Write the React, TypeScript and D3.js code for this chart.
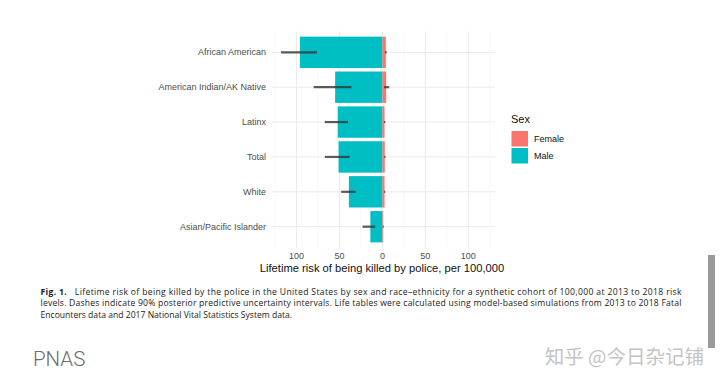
import * as d3 from 'd3';
import React from 'react';

// Race-ethnicity groups, top to bottom
const groups = [
    'African American',
    'American Indian/AK Native',
    'Latinx',
    'Total',
    'White',
    'Asian/Pacific Islander',
];

// Lifetime risk per 100,000 (median) and 90% intervals
const maleRisk = [96, 55, 52, 51, 39, 14];
const maleLow = [76, 36, 40, 38, 31, 8.5];
const maleHigh = [118, 80, 67, 67, 48, 23];

const femaleRisk = [4, 4.4, 2.5, 2.8, 2.5, 1];
const femaleLow = [3, 2, 1.8, 2.2, 1.8, 0.4];
const femaleHigh = [5, 8, 3.4, 3.6, 3.2, 1.6];

const majorTicks = [-100, -50, 0, 50, 100];
const minorTicks = [-125, -75, -25, 25, 75, 125];

const sexes = ['Female', 'Male'];
const sexColors = ['#F8766D', '#00BFC4'];

const captionLines = [
    'Lifetime risk of being killed by the police in the United States by sex and race\u2013ethnicity for a synthetic cohort of 100,000 at 2013 to 2018 risk',
    'levels. Dashes indicate 90% posterior predictive uncertainty intervals. Life tables were calculated using model-based simulations from 2013 to 2018 Fatal',
    'Encounters data and 2017 National Vital Statistics System data.',
];

function App() {
    const width = 720;
    const height = 384;

    // Panel extents
    const x = d3.scaleLinear().domain([-129, 131]).range([271.5, 495]);
    const y = d3.scaleBand().domain(groups).range([31.4, 247.6]).paddingInner(0).paddingOuter(0.1);
    const step = y.step();
    const mid = (g) => y(g) + step / 2;
    const barH = step * 0.9;

    const grid = '#ebebeb';
    const txt = '#4d4d4d';
    const font = '"Liberation Sans", Arial, sans-serif';

    return (
        <svg width={width} height={height} style={{ position: 'absolute', left: 0, top: 0, background: 'white' }}>
            <rect width={width} height={height} fill="white" />

            {/* grid */}
            {minorTicks.map((t) => (
                <line key={'mi' + t} x1={x(t)} x2={x(t)} y1={31.4} y2={247.6} stroke="#f3f3f3" strokeWidth={0.6} />
            ))}
            {majorTicks.map((t) => (
                <line key={'ma' + t} x1={x(t)} x2={x(t)} y1={31.4} y2={247.6} stroke={grid} strokeWidth={1} />
            ))}
            {groups.map((g) => (
                <line key={'h' + g} x1={271.5} x2={495} y1={mid(g)} y2={mid(g)} stroke={grid} strokeWidth={1} />
            ))}

            {/* bars */}
            {groups.map((g, i) => (
                <g key={'b' + g}>
                    <rect x={x(-maleRisk[i])} y={mid(g) - barH / 2} width={x(0) - x(-maleRisk[i])} height={barH} fill={sexColors[1]} />
                    <rect x={x(0)} y={mid(g) - barH / 2} width={x(femaleRisk[i]) - x(0)} height={barH} fill={sexColors[0]} />
                </g>
            ))}

            {/* uncertainty intervals */}
            {groups.map((g, i) => (
                <g key={'e' + g} stroke="#333" strokeOpacity={0.8} strokeWidth={2.2}>
                    <line x1={x(-maleHigh[i])} x2={x(-maleLow[i])} y1={mid(g)} y2={mid(g)} />
                    <line x1={x(femaleLow[i])} x2={x(femaleHigh[i])} y1={mid(g)} y2={mid(g)} />
                </g>
            ))}

            {/* y labels */}
            {groups.map((g) => (
                <text key={'l' + g} x={266} y={mid(g)} dy="0.35em" textAnchor="end" fontSize={9} fill={txt} fontFamily={font}>
                    {g}
                </text>
            ))}

            {/* x tick labels */}
            {majorTicks.map((t) => (
                <text key={'t' + t} x={x(t)} y={256} dy="0.35em" textAnchor="middle" fontSize={9} fill={txt} fontFamily={font}>
                    {Math.abs(t)}
                </text>
            ))}

            <text x={382} y={268.5} dy="0.35em" textAnchor="middle" fontSize={11.2} fill="#111" fontFamily={font}>
                Lifetime risk of being killed by police, per 100,000
            </text>

            {/* legend */}
            <text x={511} y={119} dy="0.35em" fontSize={11} fill="#111" fontFamily={font}>Sex</text>
            {sexes.map((s, i) => (
                <g key={'k' + s}>
                    <rect x={511.5} y={131 + i * 17} width={16.5} height={15.5} fill={sexColors[i]} />
                    <text x={534} y={139 + i * 17} dy="0.35em" fontSize={9} fill="#111" fontFamily={font}>{s}</text>
                </g>
            ))}

            {/* caption */}
            {captionLines.map((line, i) => (
                <text
                    key={'c' + i}
                    x={40.5}
                    y={294.5 + i * 11.5}
                    fontSize={8.6}
                    fill="#1a1a1a"
                    fontFamily='"Open Sans", "Noto Sans", sans-serif'
                    textLength={i < 2 ? 641 : undefined}
                    lengthAdjust="spacing"
                >
                    {i === 0 && <tspan fontWeight="bold">Fig. 1.</tspan>}
                    {i === 0 ? '\u00a0\u00a0 ' + line : line}
                </text>
            ))}

            <text x={33} y={365.5} fontSize={20.5} fontWeight={300} fill="#6b6b6b" fontFamily='Roboto, "Liberation Sans", sans-serif'>
                PNAS
            </text>
            <text x={704} y={364} textAnchor="end" fontSize={19.5} fill="#c4c4c4" fontFamily='"Noto Sans CJK SC", sans-serif'>
                知乎 @今日杂记铺
            </text>

            {/* side bar */}
            <rect x={708} y={255} width={7} height={93} fill="#9a9a9a" />
        </svg>
    );
}

export default App;
